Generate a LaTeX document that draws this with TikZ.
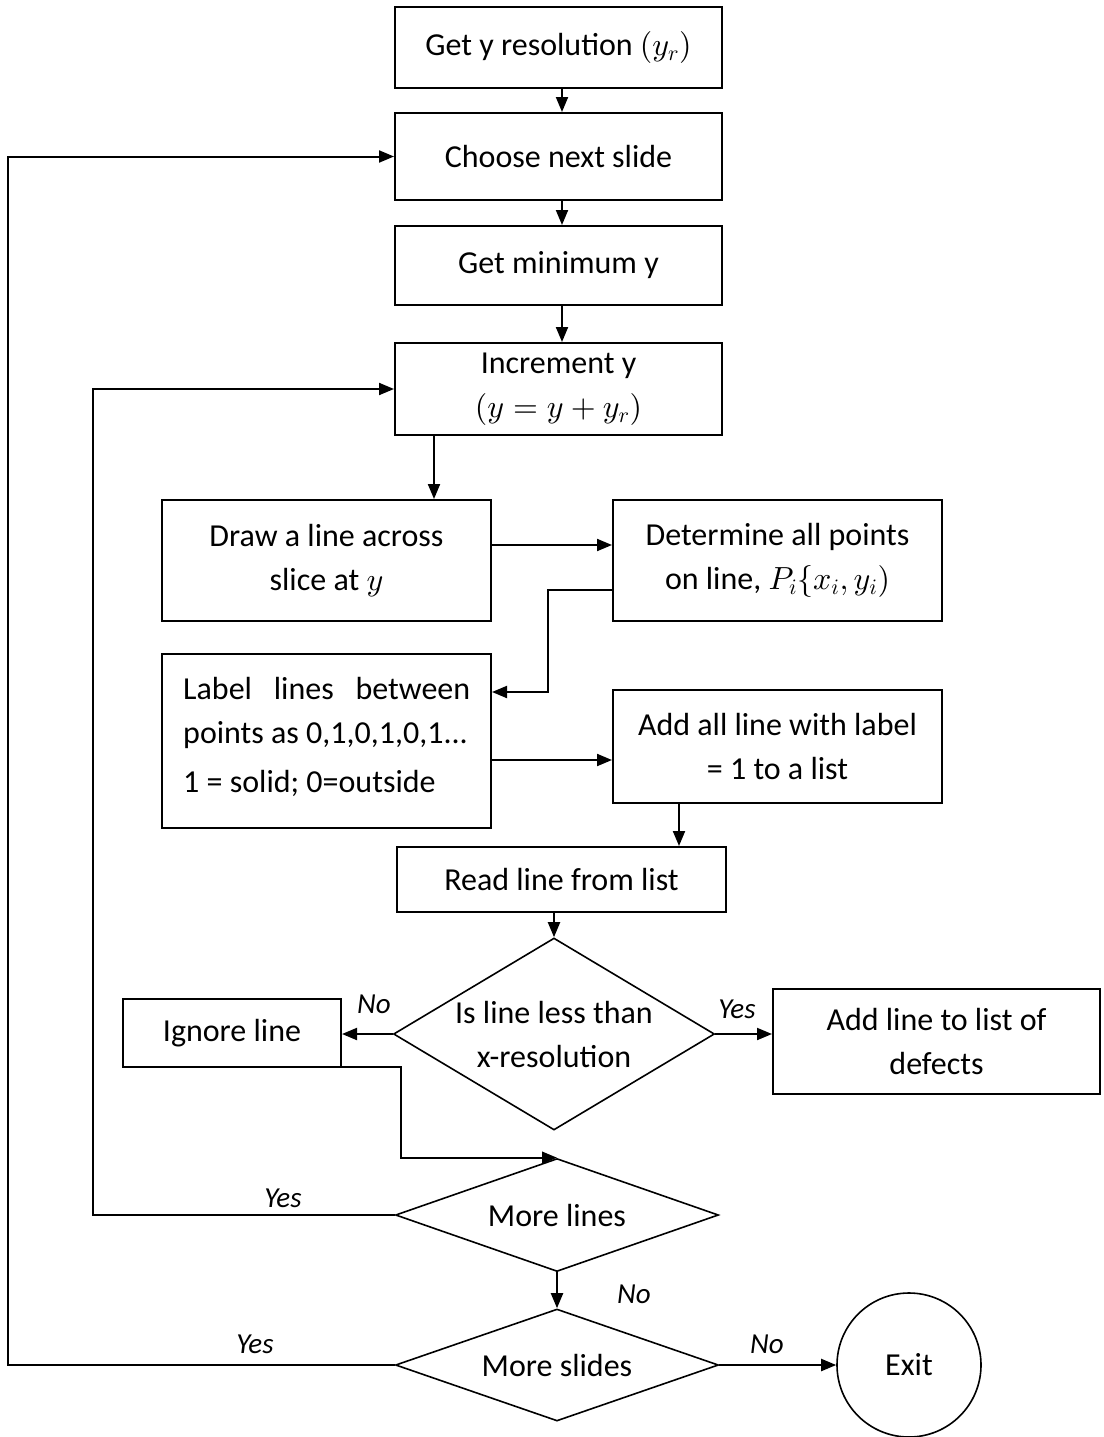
\documentclass[tikz,border=0pt]{standalone}
\usepackage{fontspec}
\setmainfont{Carlito}
% scalable Computer Modern math fonts for the large text size
\DeclareFontShape{OML}{cmm}{m}{it}{<->cmmi10}{}
\DeclareFontShape{OMS}{cmsy}{m}{n}{<->cmsy10}{}
\DeclareFontShape{OT1}{cmr}{m}{n}{<->cmr10}{}
\DeclareFontShape{OMX}{cmex}{m}{n}{<->cmex10}{}
\DeclareMathSizes{32}{32}{22}{16}
\usetikzlibrary{arrows.meta,shapes.geometric}
\begin{document}
\begin{tikzpicture}[x=1pt,y=-1pt,
  every node/.style={font=\fontsize{32}{44}\selectfont},
  box/.style={draw,line width=2pt,rectangle,inner sep=0pt,align=center},
  dec/.style={draw,line width=1.6pt,diamond,inner sep=0pt},
  arr/.style={line width=2pt,-{Triangle[length=15pt,width=12pt]}},
  lbl/.style={font=\fontsize{29}{34}\selectfont\itshape}]
\useasboundingbox (0,0) rectangle (1103,1437);

% process boxes
\node[box,minimum width=327,minimum height=81] (b1) at (558.5,47.5) {Get y resolution $(y_r)$};
\node[box,minimum width=327,minimum height=87] (b2) at (558.5,156.5) {Choose next slide};
\node[box,minimum width=327,minimum height=79] (b3) at (558.5,265.5) {Get minimum y};
\node[box,minimum width=327,minimum height=92] (b4) at (558.5,389) {Increment y\\$(y=y+y_r)$};
\node[box,minimum width=329,minimum height=121] (b5) at (326.5,560.5) {Draw a line across\\slice at $y$};
\node[box,minimum width=329,minimum height=121] (b6) at (777.5,560.5) {Determine all points\\on line, $P_i\{x_i,y_i)$};
\node[box,minimum width=329,minimum height=174] (b7) at (326.5,741) {};
\node[align=left,anchor=west,inner sep=0pt] (b7t) at (183,737)
  {\hbox to 287pt{Label\hfill lines\hfill between}\\points as 0,1,0,1,0,1...\\[5pt]1 = solid; 0=outside};
\node[box,minimum width=329,minimum height=113] (b8) at (777.5,746.5) {Add all line with label\\= 1 to a list};
\node[box,minimum width=329,minimum height=65] (b9) at (561.5,879.5) {Read line from list};
\node[box,minimum width=218,minimum height=68] (ign) at (232,1033) {Ignore line};
\node[box,minimum width=327,minimum height=105] (def) at (936.5,1041.5) {Add line to list of\\defects};

% decisions
\node[dec,minimum width=321,minimum height=192] (d1) at (554,1034) {};
\node[align=center] (d1t) at (d1) {Is line less than\\x-resolution};
\node[dec,minimum width=323,minimum height=113] (ml) at (557,1215) {};
\node (mlt) at (ml) {More lines};
\node[dec,minimum width=323,minimum height=112] (ms) at (557,1365) {};
\node (mst) at (ms) {More slides};
\node[draw,line width=1.6pt,circle,minimum size=144,inner sep=0pt] (ex) at (909,1365) {Exit};

% helper points for the routed connectors
\coordinate (c12) at (562,0);
\coordinate (c45) at (434,0);
\coordinate (c89) at (679,0);
\coordinate (r56) at (0,545);
\coordinate (r78) at (0,760);
\coordinate (k1) at (548,590);
\coordinate (k2) at (548,692);
\coordinate (j1) at (246,1067);
\coordinate (j2) at (401,1067);
\coordinate (lp1) at (93,0);
\coordinate (lp2) at (8,0);

% main flow
\draw[arr] (b1.south -| c12) -- (b2.north -| c12);
\draw[arr] (b2.south -| c12) -- (b3.north -| c12);
\draw[arr] (b3.south -| c12) -- (b4.north -| c12);
\draw[arr] (b4.south -| c45) -- (b5.north -| c45);
\draw[arr] (b5.east |- r56) -- (b6.west |- r56);
\draw[arr] (b6.west |- k1) -- (k1) -- (k2) -- (b7.east |- k2);
\draw[arr] (b7.east |- r78) -- (b8.west |- r78);
\draw[arr] (b8.south -| c89) -- (b9.north -| c89);
\draw[arr] (b9.south -| d1.north) -- (d1.north);
\draw[arr] (d1.west) -- (d1.west -| ign.east);
\draw[arr] (d1.east) -- (d1.east -| def.west);
\draw[arr] (j1) -- (j2) -- (j2 |- ml.north) -- (ml.north);
\draw[arr] (ml.south) -- (ms.north);
\draw[arr] (ms.east) -- (ex.west);

% loops back
\draw[arr] (ml.west) -- (ml.west -| lp1) -- (b4.west -| lp1) -- (b4.west);
\draw[arr] (ms.west) -- (ms.west -| lp2) -- (b2.west -| lp2) -- (b2.west);

% branch labels
\node[lbl] (n1) at (374,1004) {No};
\node[lbl] (y1) at (737,1009) {Yes};
\node[lbl] (y2) at (283,1198) {Yes};
\node[lbl] (n2) at (634,1294) {No};
\node[lbl] (y3) at (255,1344) {Yes};
\node[lbl] (n3) at (767,1344) {No};
\end{tikzpicture}
\end{document}
